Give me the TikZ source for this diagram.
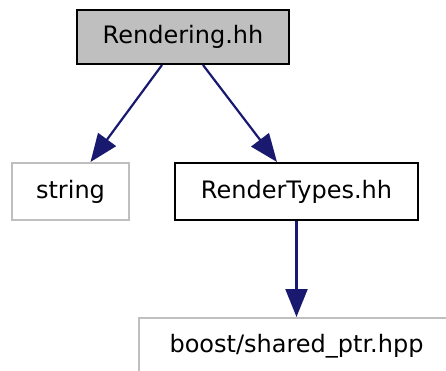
\documentclass[tikz,border=0pt]{standalone}
\usepackage{fontspec}
\setmainfont{DejaVu Sans}
\usetikzlibrary{arrows.meta}
\definecolor{edgeblue}{HTML}{191970}
\definecolor{boxgray}{HTML}{BFBFBF}
\definecolor{lightborder}{HTML}{BFBFBF}
\tikzset{
  x=1pt,y=-1pt,
  nodebox/.style={draw=black,line width=2pt,inner sep=0pt,font=\fontsize{24}{28}\selectfont,anchor=center},
  extbox/.style={draw=lightborder,line width=2pt,inner sep=0pt,font=\fontsize{24}{28}\selectfont,anchor=center},
  edge/.style={draw=edgeblue,line width=2.2pt,-{Triangle[length=28pt,width=22pt]}}
}
\begin{document}
\begin{tikzpicture}
\useasboundingbox (0,0) rectangle (446,371);
\begin{scope}
\clip (0,0) rectangle (446,371);
\node[nodebox,fill=boxgray,minimum width=212pt,minimum height=54pt] (r) at (183,37) {Rendering.hh};
\node[extbox,minimum width=117pt,minimum height=57pt] (s) at (70.5,191.5) {string};
\node[nodebox,minimum width=243pt,minimum height=57pt] (t) at (296.5,191.5) {RenderTypes.hh};
\node[extbox,minimum width=316pt,minimum height=57pt] (b) at (296.5,346.5) {boost/shared\_ptr.hpp};
\draw[edge] ([xshift=-21pt]r.south) -- ([xshift=20pt]s.north);
\draw[edge] ([xshift=20pt]r.south) -- ([xshift=-19.5pt]t.north);
\draw[edge] (t.south) -- (b.north);
\end{scope}
\end{tikzpicture}
\end{document}
